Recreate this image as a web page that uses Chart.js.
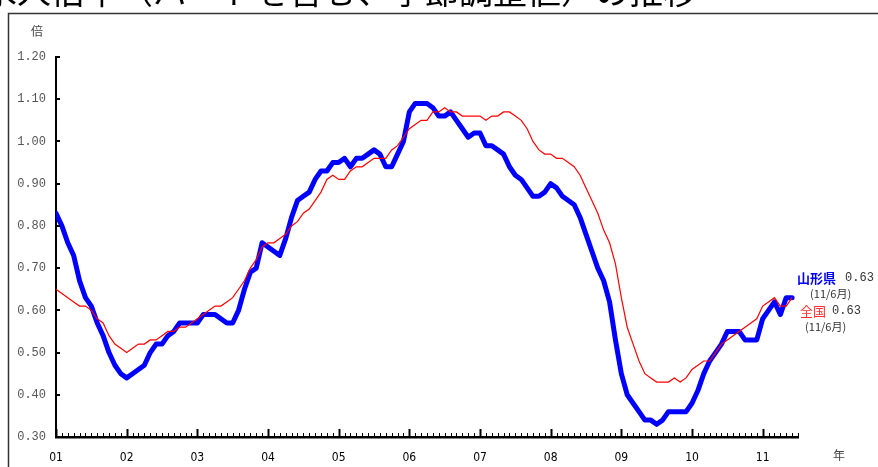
<!DOCTYPE html>
<html><head><meta charset="utf-8">
<script src="https://cdn.jsdelivr.net/npm/chart.js@4.4.1/dist/chart.umd.min.js"></script>
<style>
html,body{margin:0;padding:0;background:#fff;overflow:hidden}
canvas{display:block}
</style></head><body>
<canvas id="c" width="878" height="467" style="width:878px;height:467px"></canvas>
<script>
// x-axis year labels (2001-2011), one per 12 months
const yearLabels = ['01','02','03','04','05','06','07','08','09','10','11'];
// 山形県 monthly ratio, Jan 2001 - Jun 2011
const yamagata = [
  0.83,0.80,0.76,0.73,0.67,0.63,0.61,0.57,0.54,0.50,0.47,0.45,
  0.44,0.45,0.46,0.47,0.50,0.52,0.52,0.54,0.55,0.57,0.57,0.57,
  0.57,0.59,0.59,0.59,0.58,0.57,0.57,0.60,0.65,0.69,0.70,0.76,
  0.75,0.74,0.73,0.77,0.82,0.86,0.87,0.88,0.91,0.93,0.93,0.95,
  0.95,0.96,0.94,0.96,0.96,0.97,0.98,0.97,0.94,0.94,0.97,1.00,
  1.07,1.09,1.09,1.09,1.08,1.06,1.06,1.07,1.05,1.03,1.01,1.02,
  1.02,0.99,0.99,0.98,0.97,0.94,0.92,0.91,0.89,0.87,0.87,0.88,
  0.90,0.89,0.87,0.86,0.85,0.82,0.78,0.74,0.70,0.67,0.62,0.53,
  0.45,0.40,0.38,0.36,0.34,0.34,0.33,0.34,0.36,0.36,0.36,0.36,
  0.38,0.41,0.45,0.48,0.50,0.52,0.55,0.55,0.55,0.53,0.53,0.53,
  0.58,0.60,0.62,0.59,0.63,0.63
];
// 全国 monthly ratio, Jan 2001 - Jun 2011
const zenkoku = [
  0.65,0.64,0.63,0.62,0.61,0.61,0.60,0.58,0.57,0.54,0.52,0.51,
  0.50,0.51,0.52,0.52,0.53,0.53,0.54,0.55,0.55,0.56,0.56,0.57,
  0.58,0.59,0.60,0.61,0.61,0.62,0.63,0.65,0.67,0.70,0.72,0.75,
  0.76,0.76,0.77,0.78,0.80,0.81,0.83,0.84,0.86,0.88,0.91,0.92,
  0.91,0.91,0.93,0.94,0.94,0.95,0.96,0.96,0.96,0.98,0.99,1.01,
  1.03,1.04,1.05,1.05,1.07,1.07,1.08,1.07,1.07,1.06,1.06,1.06,
  1.06,1.05,1.06,1.06,1.07,1.07,1.06,1.05,1.03,1.00,0.98,0.97,
  0.97,0.96,0.96,0.95,0.94,0.92,0.89,0.86,0.83,0.79,0.76,0.71,
  0.63,0.56,0.52,0.48,0.45,0.44,0.43,0.43,0.43,0.44,0.43,0.44,
  0.46,0.47,0.48,0.48,0.50,0.52,0.53,0.54,0.55,0.56,0.57,0.58,
  0.61,0.62,0.63,0.61,0.61,0.63
];
const yMin = 0.30, yMax = 1.20, yStep = 0.10;
const monthsPerYear = 12;
const lastLabel = '(11/6月)';
const titleText = '有効求人倍率（パートを含む、季節調整値）の推移';

const toXY = arr => arr.map((v,i)=>({x:i,y:v}));
const JP = '"Noto Sans CJK JP", sans-serif';
const MONO = '"Liberation Mono", monospace';

const decor = {
  id:'decor',
  beforeDraw(chart){
    const c = chart.ctx;
    c.save();
    c.fillStyle='#fff'; c.fillRect(0,0,chart.width,chart.height);
    // title (cut off at top of the picture)
    c.fillStyle='#000'; c.font='34px '+JP; c.textBaseline='alphabetic'; c.textAlign='left';
    c.fillText(titleText, -85, 4);
    // frame
    c.strokeStyle='#333'; c.lineWidth=1.5;
    c.beginPath(); c.moveTo(8.5,chart.height); c.lineTo(8.5,13.5); c.lineTo(chart.width,13.5); c.stroke();
    // unit labels
    c.fillStyle='#444'; c.font='12px '+JP; c.textAlign='left'; c.textBaseline='middle';
    c.fillText('倍', 31, 31);
    c.fillText('年', 833, 455);
    c.restore();
  },
  afterDraw(chart){
    const c = chart.ctx, xs = chart.scales.x, ys = chart.scales.y, a = chart.chartArea;
    c.save();
    c.strokeStyle='#000';
    // x tick marks pointing up (monthly minor, yearly major)
    for(let m=0;m<=xs.max;m++){
      const x = Math.round(xs.getPixelForValue(m))+0.5;
      const major = m%monthsPerYear===0;
      c.lineWidth = major?2:1;
      c.beginPath(); c.moveTo(x,a.bottom); c.lineTo(x,a.bottom-(major?8:4)); c.stroke();
    }
    // y tick marks pointing right
    c.lineWidth=2;
    for(let v=yMin; v<=yMax+1e-9; v+=yStep){
      const y = Math.round(ys.getPixelForValue(v));
      c.beginPath(); c.moveTo(a.left,y); c.lineTo(a.left+4,y); c.stroke();
    }
    // end-value annotations
    const xe = xs.getPixelForValue(yamagata.length-1);
    const by = ys.getPixelForValue(yamagata[yamagata.length-1]);
    c.textBaseline='middle'; c.textAlign='left';
    c.font='bold 13px '+JP; c.fillStyle='#0000ff';
    c.fillText('山形県', xe+5, by-20);
    c.font='12px '+MONO; c.fillStyle='#333';
    c.fillText(yamagata[yamagata.length-1].toFixed(2), xe+53, by-20);
    c.font='11px '+JP; c.fillStyle='#333';
    c.fillText(lastLabel, xe+18, by-4);
    c.font='13px '+JP; c.fillStyle='#ff3030';
    c.fillText('全国', xe+8, by+13);
    c.font='12px '+MONO; c.fillStyle='#333';
    c.fillText(zenkoku[zenkoku.length-1].toFixed(2), xe+40, by+13);
    c.font='11px '+JP; c.fillStyle='#333';
    c.fillText(lastLabel, xe+13, by+29);
    c.restore();
  }
};

new Chart(document.getElementById('c'), {
  type:'line',
  data:{datasets:[
    {label:'全国', data:toXY(zenkoku), borderColor:'#ff0000', borderWidth:1.2, pointRadius:0, tension:0, fill:false},
    {label:'山形県', data:toXY(yamagata), borderColor:'#0000ff', borderWidth:5, pointRadius:0, tension:0, fill:false,
     borderJoinStyle:'round', borderCapStyle:'round'}
  ]},
  options:{
    responsive:false, animation:false, events:[], devicePixelRatio:1,
    layout:{padding:{top:57,right:80,left:0,bottom:0}},
    plugins:{legend:{display:false}, tooltip:{enabled:false}, title:{display:false}},
    scales:{
      x:{type:'linear', min:0, max:126,
        afterFit(s){ s.height = 30; },
        grid:{display:false, drawTicks:false},
        border:{display:true, color:'#000', width:2.5},
        ticks:{stepSize:12, includeBounds:false, autoSkip:false, maxRotation:0, padding:14,
          color:'#000', font:{family:'"Liberation Sans Narrow","DejaVu Sans Condensed",sans-serif', size:12},
          callback:v => (v%monthsPerYear===0 ? yearLabels[v/monthsPerYear] : '')}
      },
      y:{type:'linear', min:yMin, max:yMax,
        afterFit(s){ s.width = 56; },
        grid:{display:false, drawTicks:false},
        border:{display:true, color:'#000', width:2},
        ticks:{stepSize:yStep, padding:10, color:'#555',
          font:{family:'"Liberation Mono", monospace', size:12},
          callback:v => Number(v).toFixed(2)}
      }
    }
  },
  plugins:[decor]
});
</script>
</body></html>
